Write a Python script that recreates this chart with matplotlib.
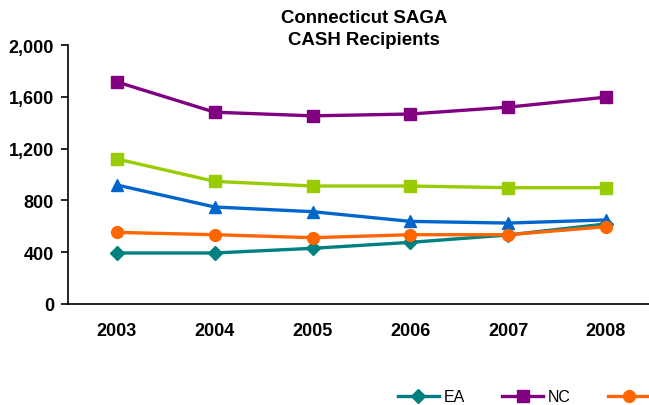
import matplotlib
matplotlib.use("Agg")
import matplotlib.pyplot as plt
from matplotlib.ticker import FuncFormatter

# Data
years = ["2003", "2004", "2005", "2006", "2007", "2008"]
ea = [394, 394, 430, 476, 533, 618]
nc = [1715, 1481, 1453, 1467, 1520, 1597]
green_series = [1120, 947, 911, 911, 898, 898]
blue_series = [919, 749, 713, 638, 625, 649]
orange_series = [553, 535, 512, 535, 535, 597]

plt.rcParams['font.family'] = ['Liberation Sans', 'DejaVu Sans']

fig = plt.figure(figsize=(6.49, 4.06), dpi=100)
# plot area runs past the right edge, like the clipped original
cat_w = 97.8  # pixels per category
ax_w = 640
ax = fig.add_axes([68 / 649, 101 / 406, ax_w / 649, 259 / 406])

x = list(range(len(years)))
lw = 2.4
ms = 8

l_ea, = ax.plot(x, ea, color='#008080', marker='D', markersize=ms - 1, lw=lw, label='EA', zorder=3)
l_nc, = ax.plot(x, nc, color='#800080', marker='s', markersize=ms, lw=lw, label='NC', zorder=3)
ax.plot(x, green_series, color='#99CC00', marker='s', markersize=ms, lw=lw, zorder=3)
ax.plot(x, blue_series, color='#0066CC', marker='^', markersize=ms + 0.5, lw=lw, zorder=4)
l_or, = ax.plot(x, orange_series, color='#FF6600', marker='o', markersize=ms + 0.5, lw=lw,
                label='   ', zorder=5)

ax.set_ylim(0, 2000)
ax.set_yticks([0, 400, 800, 1200, 1600, 2000])
ax.yaxis.set_major_formatter(FuncFormatter(lambda v, p: f"{int(v):,}"))
ax.set_xlim(-0.5, -0.5 + ax_w / cat_w)
ax.set_xticks(x)
ax.set_xticklabels(years)

for s in ['top', 'right']:
    ax.spines[s].set_visible(False)
for s in ['left', 'bottom']:
    ax.spines[s].set_linewidth(1.2)

ax.tick_params(axis='y', direction='out', length=5, width=1.2, labelsize=13, pad=5)
ax.tick_params(axis='x', length=0, labelsize=13, pad=13)
for lab in ax.get_xticklabels() + ax.get_yticklabels():
    lab.set_fontweight('bold')

fig.text(0.561, 0.975, "Connecticut SAGA\nCASH Recipients", ha='center', va='top',
         fontsize=13.4, fontweight='bold', linespacing=1.35)

fig.legend(handles=[l_ea, l_nc, l_or], loc='lower left', bbox_to_anchor=(388 / 649, -0.022),
           ncol=3, frameon=False, fontsize=11.5, handlelength=2.6, handletextpad=0.3,
           columnspacing=2.3, borderaxespad=0.2)

fig.savefig("out.png", dpi=100)
